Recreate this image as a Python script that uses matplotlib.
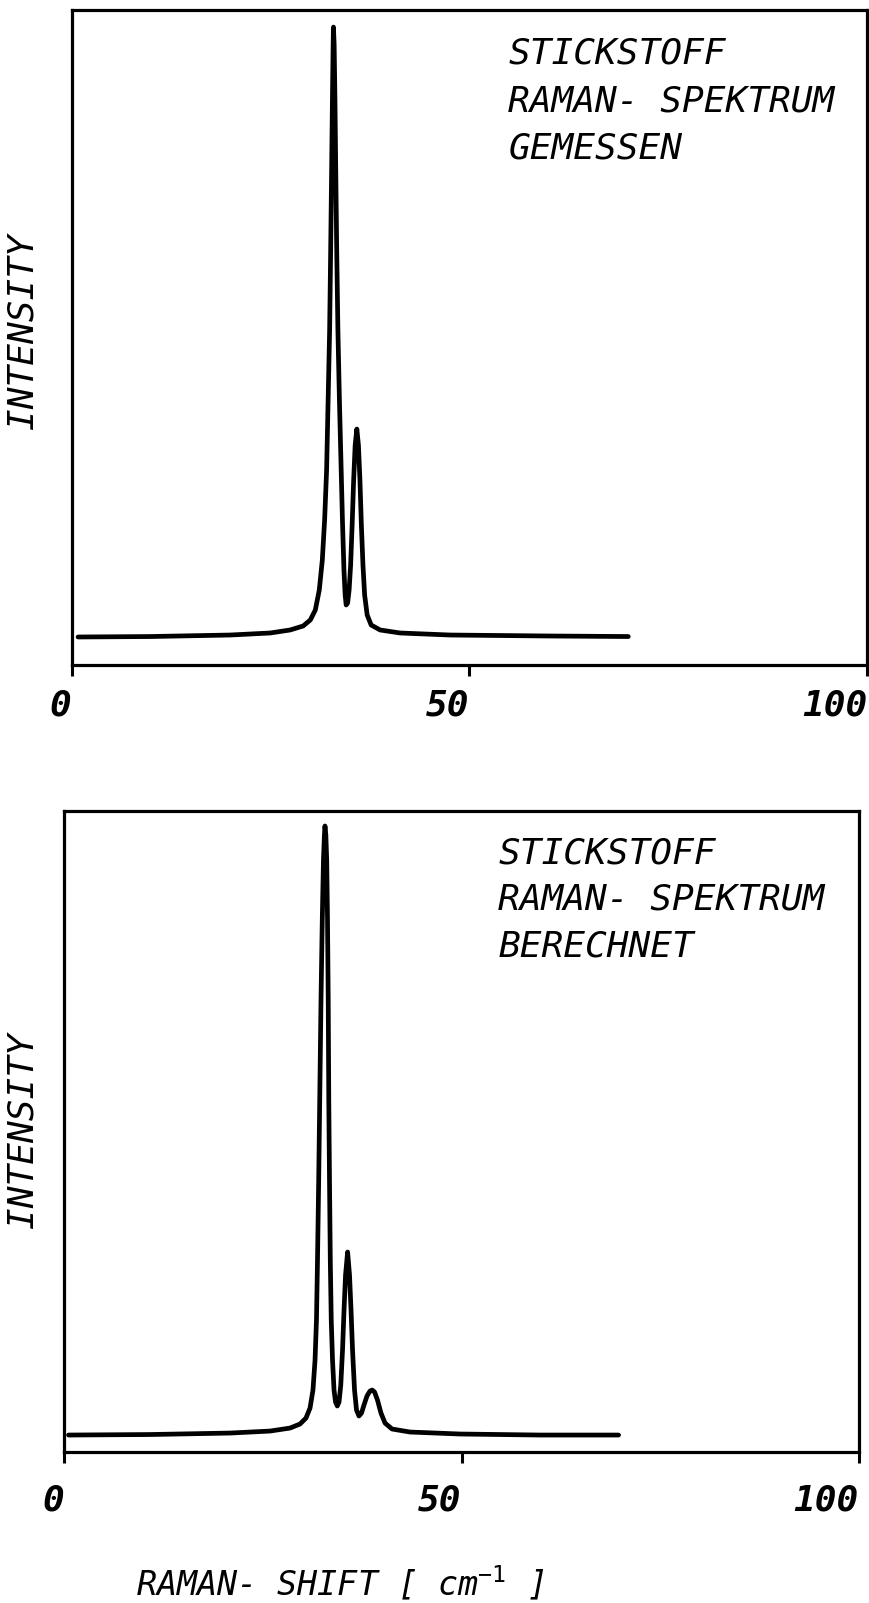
import matplotlib
matplotlib.use("Agg")
import matplotlib.pyplot as plt
from matplotlib.transforms import ScaledTranslation

# Raman shift [cm^-1] and relative intensity
meas_shift = [0.81, 9.86, 19.92, 24.96, 27.47, 29.11, 30.01, 30.64, 31.14, 31.52,
              31.81, 32.06, 32.25, 32.44, 32.57, 32.69, 32.79, 32.88, 32.92, 33.01,
              33.11, 33.21, 33.33, 33.48, 33.67, 33.86, 34.05, 34.24, 34.39, 34.52,
              34.70, 34.89, 35.08, 35.27, 35.46, 35.65, 35.86, 36.06, 36.25, 36.43,
              36.63, 36.84, 37.16, 37.66, 38.79, 41.31, 47.60, 60.18, 69.99]
meas_int = [4.22, 4.29, 4.52, 4.83, 5.29, 5.90, 6.82, 8.34, 11.40, 15.98,
            22.10, 29.74, 40.43, 51.13, 63.36, 75.58, 86.28, 94.68, 97.43, 94.68,
            86.28, 75.58, 63.36, 51.13, 40.43, 31.27, 22.10, 14.46, 10.64, 9.11,
            9.41, 11.40, 15.22, 21.33, 28.21, 33.56, 36.00, 33.56, 28.21, 21.33,
            15.22, 10.64, 7.58, 6.05, 5.29, 4.83, 4.52, 4.37, 4.29]

# calculated spectrum
calc_shift = [0.52, 10.78, 20.85, 25.88, 28.40, 29.66, 30.41, 30.92, 31.29, 31.55,
              31.73, 31.86, 32.01, 32.14, 32.30, 32.46, 32.61, 32.73, 32.80, 32.91,
              33.02, 33.12, 33.21, 33.28, 33.37, 33.47, 33.59, 33.75, 33.94, 34.13,
              34.35, 34.57, 34.79, 35.01, 35.20, 35.39, 35.65, 35.89, 36.08, 36.27,
              36.52, 36.77, 37.08, 37.40, 37.71, 38.09, 38.47, 38.75, 39.04, 39.41,
              39.85, 40.36, 41.24, 43.50, 49.80, 59.87, 69.76]
calc_int = [2.62, 2.70, 2.93, 3.24, 3.71, 4.34, 5.27, 6.83, 9.64, 14.32,
            20.56, 29.92, 42.40, 54.88, 70.48, 82.96, 92.32, 96.22, 97.63, 96.22,
            92.32, 82.96, 70.48, 54.88, 42.40, 29.92, 20.56, 14.32, 9.64, 7.77,
            7.15, 7.77, 10.42, 15.88, 22.12, 27.58, 31.17, 27.58, 22.12, 15.88,
            9.64, 6.52, 5.59, 6.05, 7.30, 8.71, 9.49, 9.64, 9.33, 8.08,
            6.05, 4.49, 3.56, 3.09, 2.78, 2.62, 2.62]

x_ticks = [0, 50, 100]
x_ticklabels = ["0", "50", "100"]
titles = [["STICKSTOFF", "RAMAN- SPEKTRUM", "GEMESSEN"],
          ["STICKSTOFF", "RAMAN- SPEKTRUM", "BERECHNET"]]

plt.rcParams["mathtext.fontset"] = "custom"
plt.rcParams["mathtext.rm"] = "DejaVu Sans Mono"
plt.rcParams["mathtext.it"] = "DejaVu Sans Mono:oblique"

FONT = "DejaVu Sans Mono"

fig = plt.figure(figsize=(8.69, 16.03), dpi=100)
ax_top = fig.add_axes([0.0824, 0.5854, 0.9153, 0.4082])
ax_bot = fig.add_axes([0.0741, 0.0943, 0.9142, 0.3999])

panels = [(ax_top, meas_shift, meas_int, titles[0], 0.549, 9),
          (ax_bot, calc_shift, calc_int, titles[1], 0.546, 15)]

shift_left = ScaledTranslation(-6 / 72, 0, fig.dpi_scale_trans)

for ax, xs, ys, lines, tx, pad in panels:
    ax.plot(xs, ys, color="black", linewidth=3.4, solid_joinstyle="round",
            solid_capstyle="round")
    ax.set_xlim(0, 100)
    ax.set_ylim(0, 100)
    ax.set_yticks([])
    ax.set_xticks(x_ticks)
    ax.set_xticklabels(x_ticklabels, family=FONT, fontsize=26,
                       fontweight="bold", style="oblique", ha="right")
    for lbl in ax.get_xticklabels():
        lbl.set_transform(lbl.get_transform() + shift_left)
    ax.tick_params(axis="x", direction="out", length=8, width=2.2, pad=pad)
    for sp in ax.spines.values():
        sp.set_linewidth(2.3)
    for i, line in enumerate(lines):
        ax.text(tx, 0.934 - i * 0.073, line, transform=ax.transAxes,
                family=FONT, fontsize=26, style="oblique", va="center",
                ha="left")

fig.text(0.026, 0.7935, "INTENSITY", rotation=90, family=FONT, fontsize=26,
         style="oblique", ha="center", va="center")
fig.text(0.026, 0.295, "INTENSITY", rotation=90, family=FONT, fontsize=26,
         style="oblique", ha="center", va="center")
fig.text(0.391, 0.0125, r"RAMAN- SHIFT [ cm$^{-1}$ ]", family=FONT, fontsize=24,
         style="oblique", ha="center", va="center")

fig.savefig("out.png", dpi=100)
